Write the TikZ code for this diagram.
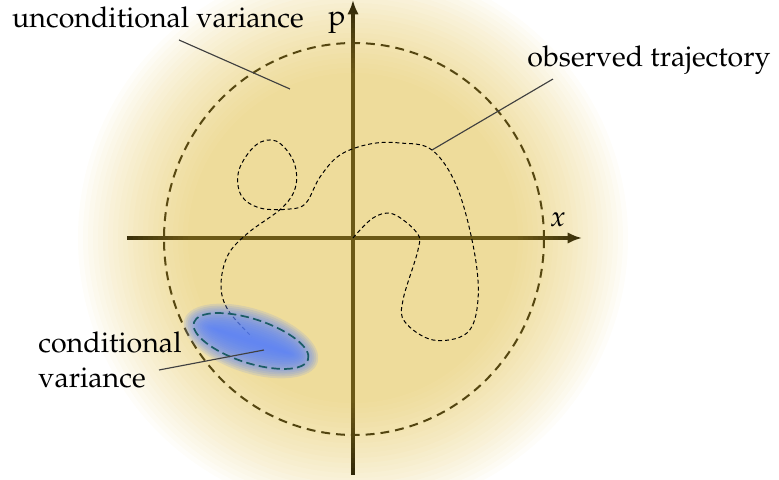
\documentclass[tikz,border=0pt]{standalone}
\usepackage[T1]{fontenc}
\usepackage{mathpazo}
\usepackage{tikz}
\usetikzlibrary{arrows.meta,positioning}
\definecolor{varfill}{HTML}{DFBB3D}
\definecolor{blobfill}{HTML}{5A82FA}
\definecolor{condline}{HTML}{1B5C66}
\definecolor{pointerline}{HTML}{404040}

\begin{document}
\begin{tikzpicture}[x=0.0123cm, y=0.0123cm,
  axis/.style={line width=1.15pt, -{Latex[length=5pt,width=4pt]}},
  bound/.style={line width=0.7pt, dash pattern=on 3.1pt off 2.1pt},
  traj/.style={line width=0.35pt, dash pattern=on 1.4pt off 1pt},
  condring/.style={condline, line width=0.6pt, dash pattern=on 3pt off 1.5pt},
  pointer/.style={pointerline, line width=0.4pt},
  lbl/.style={inner sep=1pt, align=left}
]
  \useasboundingbox (-353,-242) rectangle (426,238);
  % axes and bound go under the shading
  \coordinate (o) at (0,0);
  \coordinate (xl) at (-226,0);
  \coordinate (xr) at (229,0);
  \coordinate (pb) at (0,-237);
  \coordinate (pt) at (0,238);
  \draw[axis] (xl) -- (xr);
  \draw[axis] (pb) -- (pt);
  \draw[bound] (1,-1) ellipse (190 and 196);
  \foreach \r in {165,170,...,275}
    \fill[varfill, fill opacity=0.0297] (o) circle (\r);

  % trajectory
  \draw[traj] plot[smooth, tension=0.6] coordinates {
    (0,0) (20,20) (40,24) (64,5) (65,-12) (50,-62) (52,-84) (80,-102)
    (114,-95) (125,-62) (121,-12) (104,51) (79,88) (47,95) (17,94)
    (-13,83) (-33,61) (-47,35) (-63,29) (-93,30) (-112,43) (-114,68)
    (-97,93) (-77,97) (-60,78) (-57,53) (-70,31) (-105,5) (-125,-17)
    (-132,-47) (-125,-72) (-101,-99)};
  \coordinate (trajpt) at (79,88);

  % conditional variance
  \begin{scope}[shift={(-102,-103)}, rotate=-18]
    \foreach \d in {-20,-18,...,10}
      \fill[blobfill, fill opacity=0.15] (0,0) ellipse ({60+\d} and {22+\d});
    \draw[condring] (0,0) ellipse (60 and 22);
  \end{scope}

  \node[lbl] (uncond) at (-195,221) {unconditional variance};
  \node (plbl) at (-16,215) {p};
  \node (xlbl) at (205,18) {$x$};
  \node[lbl] (obs) at (296,178) {observed trajectory};
  \node[lbl] (cond) at (-243,-122) {conditional\\variance};

  \coordinate (uncondtail) at (-174,198);
  \coordinate (uncondtip) at (-63,149);
  \coordinate (obstail) at (200,159);
  \coordinate (condtail) at (-194,-132);
  \coordinate (condtip) at (-89,-112);
  \draw[pointer] (uncondtail) -- (uncondtip);
  \draw[pointer] (obstail) -- (trajpt);
  \draw[pointer] (condtail) -- (condtip);
\end{tikzpicture}
\end{document}
